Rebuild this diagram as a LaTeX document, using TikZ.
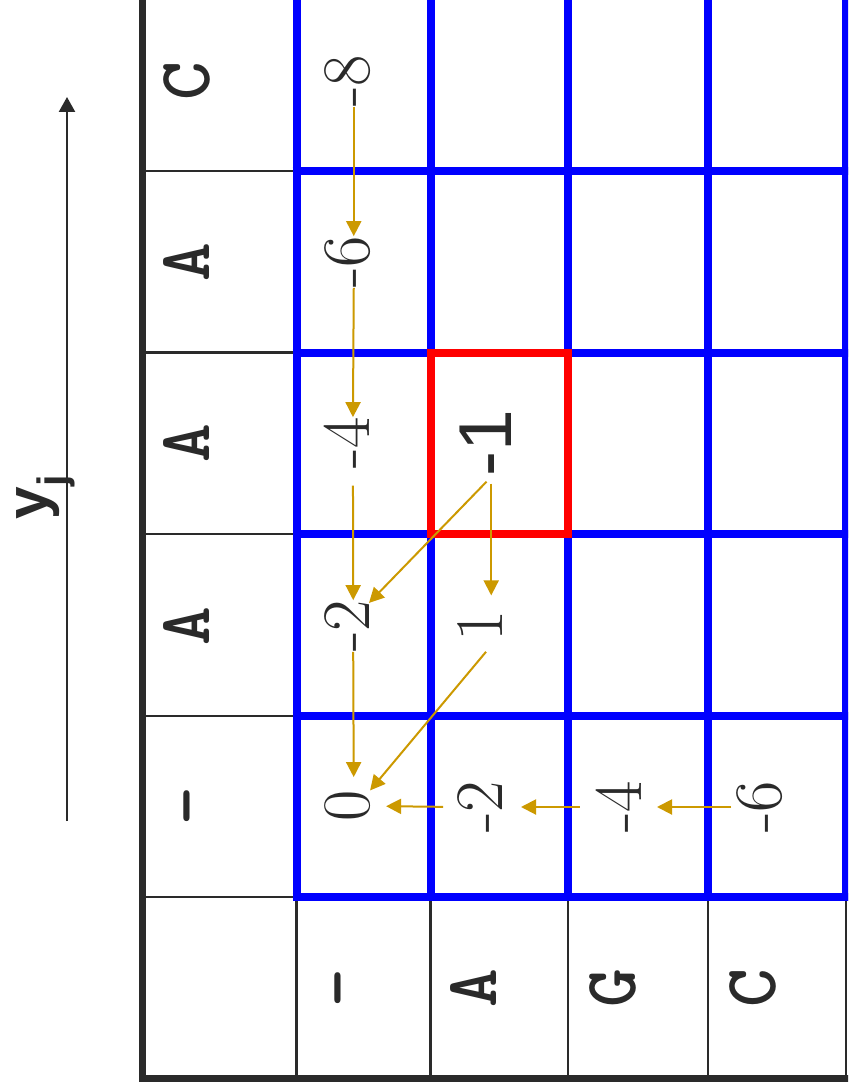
\documentclass[tikz,border=0pt]{standalone}
\usepackage{fontspec}
\usetikzlibrary{arrows.meta}
\newfontfamily\cellsans{Liberation Sans}
\definecolor{ink}{RGB}{42,42,42}
\definecolor{trgold}{RGB}{204,153,0}
\definecolor{gridblue}{RGB}{0,0,255}
\definecolor{hired}{RGB}{255,0,0}
\tikzset{
    cellnum/.style={rotate=90, anchor=base, inner sep=0pt, outer sep=0pt, text=ink,
        font=\fontsize{58}{60}\selectfont},
    seqchar/.style={rotate=90, anchor=base, inner sep=0pt, outer sep=0pt, text=ink,
        font=\ttfamily\bfseries\fontsize{63}{66}\selectfont},
    trace/.style={draw=trgold, line width=0.6mm, -{Triangle[width=4.5mm,length=4.5mm]}},
    bluegrid/.style={draw=gridblue, line width=2.4mm},
    thinrule/.style={draw=ink, line width=0.75mm},
}

\begin{document}
\begin{tikzpicture}[x=0.3mm, y=-0.3mm]
    \useasboundingbox (0,0) rectangle (848,1090);
    \fill[white] (0,0) rectangle (848,1090);
    \clip (0,0) rectangle (848,1090);

    % table rules
    \foreach \r in {171,352.5,534,716,897}
        \draw[thinrule] (142.5,\r) -- (296.5,\r);
    \foreach \c in {296.5,430.5,568,708,846}
        \draw[thinrule] (\c,897) -- (\c,1078.5);

    \foreach \c in {296.5,430.5,568,708,846}
        \draw[bluegrid] (\c,-30) -- (\c,901);
    \foreach \r in {-10.5,171,352.5,534,716,897}
        \draw[bluegrid] (292.5,\r) -- (870,\r);
    \draw[draw=hired, line width=2.4mm] (430.5,352.5) rectangle (568,534);

    \draw[ink, line width=1.95mm] (142.5,-30) -- (142.5,1078.5) -- (870,1078.5);

    % sequences
    \node[seqchar] (yc0) at (209,81.5) {C};
    \node[seqchar] (yc1) at (209,262.5) {A};
    \node[seqchar] (yc2) at (209,443) {A};
    \node[seqchar] (yc3) at (209,626.5) {A};
    \node[seqchar] (yc4) at (209,806) {-};

    \node[seqchar] (xs0) at (360,988) {-};
    \node[seqchar] (xs1) at (496,988) {A};
    \node[seqchar] (xs2) at (635,988) {G};
    \node[seqchar] (xs3) at (775,988) {C};

    % scores
    \node[cellnum] (d0) at (369,81) {-8};
    \node[cellnum] (d1) at (369,262) {-6};
    \node[cellnum] (d2) at (369,443) {-4};
    \node[cellnum] (d3) at (369,626) {-2};
    \node[cellnum] (d4) at (369,806) {0};

    \node[cellnum] (r1) at (502,807) {-2};
    \node[cellnum] (r2) at (641,807) {-4};
    \node[cellnum] (r3) at (781,807) {-6};

    \node[cellnum] (n1) at (502,626) {1};
    \node[cellnum, font=\cellsans\fontsize{64}{66}\selectfont] (m) at (511,443.5) {-1};

    \draw[trace] ([xshift=2mm]d0.west) -- ([xshift=2mm]d1.east);
    \draw[trace] ([xshift=2mm]d1.west) -- ([xshift=2mm]d2.east);
    \draw[trace, shorten <=5mm] ([xshift=2mm]d2.west) -- ([xshift=2mm]d3.east);
    \draw[trace, shorten >=4mm] ([xshift=2mm]d3.west) -- ([xshift=2mm]d4.east);

    \draw[trace, shorten <=2mm] ([xshift=1.8mm]m.west) -- (d3);
    \draw[trace, shorten <=2mm, shorten >=4.5mm] ([xshift=1.8mm]m.west) -- ([xshift=1.8mm]m.west |- n1.east);
    \draw[trace, shorten <=4mm] ([xshift=4.5mm]n1.west) -- (d4.south east);

    \draw[trace, shorten <=4.2mm, shorten >=4.8mm] (r1.north) -- (d4.south);
    \draw[trace, shorten <=4.8mm, shorten >=5.7mm] (r2.north) -- (r1.south);
    \draw[trace, shorten <=1.5mm, shorten >=4.8mm] (r3.north) -- (r2.south);

    % y_j axis
    \coordinate (ybot) at (67,821);
    \coordinate (ytop) at (67,97);
    \draw[ink, line width=0.7mm, -{Triangle[width=4.8mm,length=4.5mm]}] (ybot) -- (ytop);
    \node[rotate=90, anchor=base, text=ink, font=\cellsans\bfseries\fontsize{50}{52}\selectfont] (ylab) at (47,497) {y\textsubscript{j}};
\end{tikzpicture}
\end{document}
